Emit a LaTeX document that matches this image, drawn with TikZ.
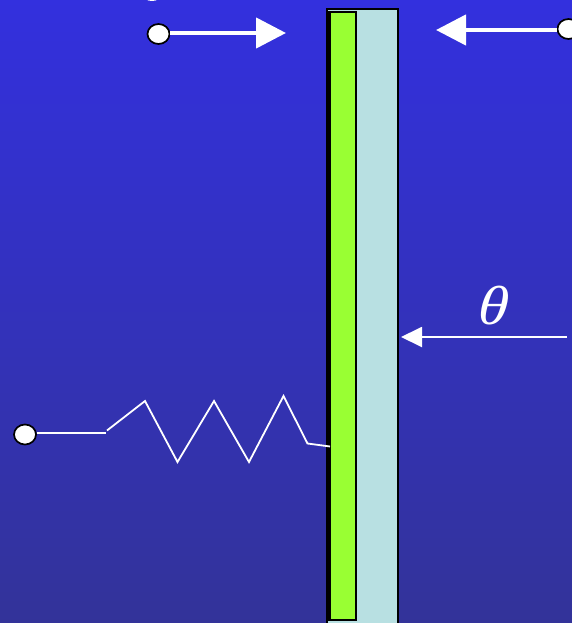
\documentclass[tikz,border=0pt]{standalone}
\usepackage{fontspec}
\newfontfamily\thfont{Liberation Serif}
\usetikzlibrary{arrows.meta,shapes.geometric}
\definecolor{bgtop}{RGB}{51,48,222}
\definecolor{bgbot}{RGB}{51,51,153}
\definecolor{plate}{RGB}{184,224,226}
\definecolor{film}{RGB}{153,255,51}
\tikzset{
  terminal/.style={shape=ellipse,draw=black,fill=white,line width=1.7pt,minimum width=22pt,minimum height=20pt,inner sep=0pt},
  bigarrow/.style={draw=white,line width=4.4pt,-{Triangle[length=30pt,width=30pt]}},
  thinarrow/.style={draw=white,line width=1.9pt,-{Triangle[length=21pt,width=20pt]}},
  wire/.style={draw=white,line width=1.8pt,line join=miter},
  slab/.style={draw=black,line width=2.2pt}
}
\begin{document}
\begin{tikzpicture}[x=1pt,y=-1pt]
\useasboundingbox (0,0) rectangle (572,623);
\clip (0,0) rectangle (572,623);
\shade[top color=bgtop,bottom color=bgbot] (0,0) rectangle (572,623);
% plates
\draw[slab,fill=plate] (326.8,9.2) rectangle (398.3,640);
\draw[slab,fill=film] (329.5,12) rectangle (356,620);
% coordinates and terminals
\node[terminal] (tl) at (158.5,34) {};
\node[terminal] (tr) at (568.5,29) {};
\node[terminal] (bl) at (25,434.5) {};
\node[shape=ellipse,fill=white,minimum width=18pt,minimum height=12pt,inner sep=0pt] (tt) at (152,-5) {};
\coordinate (tlend) at (286,33);
\coordinate (trend) at (436,30);
\coordinate (thstart) at (567,337);
\coordinate (thend) at (401,337);
\coordinate (w0) at (106,433);
\coordinate (z0) at (107,430.5);
\coordinate (z1) at (145,401);
\coordinate (z2) at (177.5,462);
\coordinate (z3) at (214,401);
\coordinate (z4) at (249,462);
\coordinate (z5) at (283.5,396);
\coordinate (z6) at (307.5,443.5);
\coordinate (z7) at (330,446.5);
% arrows
\draw[bigarrow] (tl.east |- tlend) -- (tlend);
\draw[bigarrow] (tr.west |- trend) -- (trend);
\draw[thinarrow] (thstart) -- (thend);
% resistor
\draw[wire] (bl.east |- w0) -- (w0);
\draw[wire] (z0) -- (z1) -- (z2) -- (z3) -- (z4) -- (z5) -- (z6) -- (z7);
% theta
\node[text=white,inner sep=0pt,font=\thfont\itshape\fontsize{55}{60}\selectfont,xslant=0.08,xscale=1.12,transform shape] (th) at (494,305.5) {θ};
\end{tikzpicture}
\end{document}
